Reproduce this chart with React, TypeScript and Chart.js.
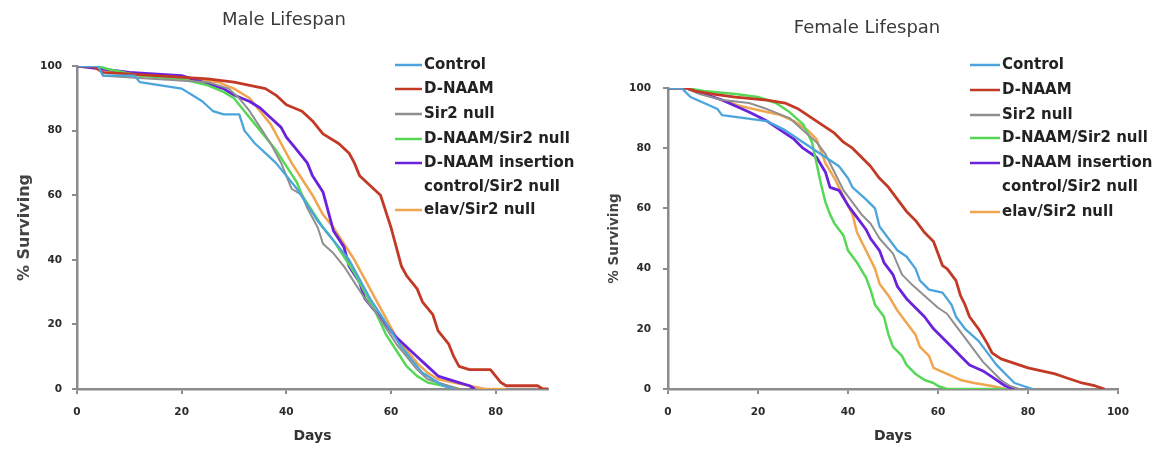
import React, { useEffect, useRef } from 'react';
import { Chart, registerables } from 'chart.js';

Chart.register(...registerables);

const seriesLabels = [
  'Control',
  'D-NAAM',
  'Sir2 null',
  'D-NAAM/Sir2 null',
  'D-NAAM insertion\ncontrol/Sir2 null',
  'elav/Sir2 null',
];
const seriesColors = ['#4ba4dc', '#c23a26', '#8f8f8f', '#56d856', '#6a22dc', '#f1a54f'];
const seriesWidths = [2.3, 2.8, 2, 2.5, 2.8, 2.5];

const yTicks = [0, 20, 40, 60, 80, 100];
const maleXTicks = [0, 20, 40, 60, 80];
const femaleXTicks = [0, 20, 40, 60, 80, 100];

// ---------- Male lifespan (day, % surviving) ----------
const maleControlDays = [0, 4, 5, 11, 12, 16, 20, 22, 24, 26, 28, 31, 32, 34, 36, 38, 40, 42, 44, 46, 48, 50, 52, 54, 56, 58, 60, 62, 64, 66, 68, 70, 72];
const maleControlPct = [100, 100, 97, 97, 95, 94, 93, 91, 89, 86, 85, 85, 80, 76, 73, 70, 66, 62, 57, 52, 48, 44, 40, 34, 28, 23, 18, 13, 9, 5, 3, 1, 0];

const maleDnaamDays = [0, 3, 5, 15, 25, 30, 33, 36, 38, 40, 43, 45, 47, 50, 52, 53, 54, 56, 58, 59, 60, 61, 62, 63, 65, 66, 68, 69, 71, 72, 73, 75, 79, 80, 81, 82, 88, 89, 90];
const maleDnaamPct = [100, 100, 98, 97, 96, 95, 94, 93, 91, 88, 86, 83, 79, 76, 73, 70, 66, 63, 60, 55, 50, 44, 38, 35, 31, 27, 23, 18, 14, 10, 7, 6, 6, 4, 2, 1, 1, 0, 0];

const maleSir2Days = [0, 4, 5, 15, 25, 29, 31, 33, 35, 37, 39, 40, 41, 43, 44, 46, 47, 49, 51, 53, 55, 57, 59, 61, 63, 65, 67, 69, 71, 73];
const maleSir2Pct = [100, 100, 97, 96, 95, 93, 90, 86, 81, 76, 70, 66, 62, 60, 56, 50, 45, 42, 38, 33, 28, 24, 19, 14, 10, 6, 3, 2, 1, 0];

const maleDnaamSir2Days = [0, 4, 6, 12, 20, 25, 28, 30, 32, 34, 36, 38, 40, 42, 43, 45, 47, 49, 51, 53, 55, 57, 59, 61, 63, 65, 67, 70, 73];
const maleDnaamSir2Pct = [100, 100, 99, 97, 96, 94, 92, 90, 86, 82, 78, 74, 69, 64, 60, 55, 50, 46, 41, 36, 30, 24, 17, 12, 7, 4, 2, 1, 0];

const maleInsertionDays = [0, 5, 10, 20, 24, 28, 30, 33, 35, 37, 39, 40, 42, 44, 45, 47, 48, 49, 51, 52, 54, 55, 57, 59, 61, 63, 65, 67, 69, 71, 73, 75, 76];
const maleInsertionPct = [100, 99, 98, 97, 95, 93, 91, 89, 87, 84, 81, 78, 74, 70, 66, 61, 55, 49, 44, 38, 33, 28, 24, 20, 16, 13, 10, 7, 4, 3, 2, 1, 0];

const maleElavDays = [0, 5, 15, 22, 27, 30, 33, 35, 37, 39, 41, 43, 45, 47, 49, 51, 53, 55, 57, 59, 61, 63, 65, 67, 69, 72, 75, 78, 82];
const maleElavPct = [100, 99, 97, 96, 95, 93, 90, 86, 82, 76, 70, 65, 60, 54, 50, 45, 40, 34, 28, 22, 16, 12, 8, 5, 3, 2, 1, 0, 0];

// ---------- Female lifespan (day, % surviving) ----------
const femaleControlDays = [0, 3, 5, 8, 11, 12, 17, 22, 26, 30, 33, 36, 38, 40, 41, 44, 46, 47, 49, 51, 53, 55, 56, 58, 61, 63, 64, 66, 69, 71, 73, 75, 77, 79, 81];
const femaleControlPct = [100, 100, 97, 95, 93, 91, 90, 89, 86, 82, 79, 76, 74, 70, 67, 63, 60, 54, 50, 46, 44, 40, 36, 33, 32, 28, 24, 20, 16, 12, 8, 5, 2, 1, 0];

const femaleDnaamDays = [0, 4, 6, 10, 15, 22, 26, 29, 31, 33, 35, 37, 39, 41, 43, 45, 47, 49, 51, 53, 55, 57, 59, 60, 61, 62, 64, 65, 66, 67, 69, 71, 72, 74, 76, 78, 80, 83, 86, 88, 90, 92, 95, 97];
const femaleDnaamPct = [100, 100, 99, 98, 97, 96, 95, 93, 91, 89, 87, 85, 82, 80, 77, 74, 70, 67, 63, 59, 56, 52, 49, 45, 41, 40, 36, 31, 28, 24, 20, 15, 12, 10, 9, 8, 7, 6, 5, 4, 3, 2, 1, 0];

const femaleSir2Days = [0, 4, 7, 12, 18, 22, 27, 30, 33, 35, 37, 39, 41, 43, 45, 47, 50, 52, 54, 57, 60, 62, 64, 66, 68, 70, 72, 74, 76, 78];
const femaleSir2Pct = [100, 100, 98, 96, 95, 93, 90, 86, 82, 78, 72, 66, 62, 58, 55, 50, 45, 38, 35, 31, 27, 25, 21, 17, 13, 9, 6, 3, 1, 0];

const femaleDnaamSir2Days = [0, 4, 8, 15, 20, 24, 27, 30, 32, 33, 34, 35, 36, 37, 39, 40, 42, 44, 45, 46, 48, 49, 50, 52, 53, 55, 57, 59, 60, 62, 75];
const femaleDnaamSir2Pct = [100, 100, 99, 98, 97, 95, 92, 88, 82, 75, 68, 62, 58, 55, 51, 46, 42, 37, 33, 28, 24, 18, 14, 11, 8, 5, 3, 2, 1, 0, 0];

const femaleInsertionDays = [0, 4, 8, 12, 15, 18, 22, 25, 28, 30, 33, 35, 36, 38, 40, 42, 44, 45, 47, 48, 50, 51, 53, 55, 57, 59, 61, 63, 65, 67, 70, 72, 74, 75, 77];
const femaleInsertionPct = [100, 100, 98, 96, 94, 92, 89, 86, 83, 80, 77, 72, 67, 66, 61, 57, 53, 50, 46, 42, 38, 34, 30, 27, 24, 20, 17, 14, 11, 8, 6, 4, 2, 1, 0];

const femaleElavDays = [0, 4, 8, 12, 16, 22, 25, 28, 31, 33, 35, 37, 39, 41, 42, 44, 46, 47, 49, 51, 53, 55, 56, 58, 59, 62, 65, 68, 72, 75];
const femaleElavPct = [100, 100, 98, 96, 94, 92, 91, 89, 86, 83, 75, 70, 64, 58, 52, 46, 40, 35, 31, 26, 22, 18, 14, 11, 7, 5, 3, 2, 1, 0];

const maleSeries = [
  [maleControlDays, maleControlPct],
  [maleDnaamDays, maleDnaamPct],
  [maleSir2Days, maleSir2Pct],
  [maleDnaamSir2Days, maleDnaamSir2Pct],
  [maleInsertionDays, maleInsertionPct],
  [maleElavDays, maleElavPct],
];
const femaleSeries = [
  [femaleControlDays, femaleControlPct],
  [femaleDnaamDays, femaleDnaamPct],
  [femaleSir2Days, femaleSir2Pct],
  [femaleDnaamSir2Days, femaleDnaamSir2Pct],
  [femaleInsertionDays, femaleInsertionPct],
  [femaleElavDays, femaleElavPct],
];

const FONT = '"DejaVu Sans", Verdana, sans-serif';
const AXIS_COLOR = '#8c8c8c';

const overlayPlugin = {
  id: 'panelOverlay',
  afterDraw(chart: any, _args: any, opts: any) {
    const ctx = chart.ctx;
    ctx.save();
    ctx.font = `normal ${opts.titleSize}px ${FONT}`;
    ctx.fillStyle = '#3a3a3a';
    ctx.textAlign = 'center';
    ctx.textBaseline = 'middle';
    ctx.fillText(opts.title, opts.titleX, opts.titleY);

    ctx.font = `bold ${opts.legendSize}px ${FONT}`;
    ctx.textAlign = 'left';
    let row = 0;
    chart.data.datasets.forEach((ds: any) => {
      const lines = String(ds.label).split('\n');
      const y = opts.rows[row];
      ctx.strokeStyle = ds.borderColor;
      ctx.lineWidth = 2.5;
      ctx.beginPath();
      ctx.moveTo(opts.lineX, y);
      ctx.lineTo(opts.lineX + opts.lineLen, y);
      ctx.stroke();
      ctx.fillStyle = '#222';
      lines.forEach((ln: string, i: number) => {
        ctx.fillText(ln, opts.textX, opts.rows[row + i]);
      });
      row += lines.length;
    });
    ctx.restore();
  },
};

function makeConfig(p: any) {
  return {
    type: 'line',
    data: {
      datasets: p.series.map((s: number[][], i: number) => ({
        label: seriesLabels[i],
        data: s[0].map((d: number, k: number) => ({ x: d, y: s[1][k] })),
        borderColor: seriesColors[i],
        backgroundColor: seriesColors[i],
        borderWidth: seriesWidths[i],
        pointRadius: 0,
        stepped: false,
        fill: false,
        tension: 0,
        borderJoinStyle: 'round',
      })),
    },
    options: {
      responsive: false,
      animation: false,
      layout: { padding: p.padding },
      plugins: {
        legend: { display: false },
        tooltip: { enabled: false },
        title: { display: false },
        panelOverlay: p.overlay,
      },
      scales: {
        x: {
          type: 'linear',
          min: 0,
          max: p.xMax,
          afterBuildTicks: (s: any) => {
            s.ticks = p.xTicks.map((v: number) => ({ value: v }));
          },
          afterFit: (s: any) => {
            s.height = p.xHeight;
          },
          border: { display: true, color: AXIS_COLOR, width: 2.5 },
          grid: { display: true, drawOnChartArea: false, drawTicks: true, tickLength: 5, color: AXIS_COLOR, lineWidth: 2 },
          ticks: { padding: 12, color: '#2a2a2a', font: { family: FONT, size: 10.5, weight: 'bold' }, maxRotation: 0 },
          title: { display: true, text: 'Days', color: '#333', font: { family: FONT, size: 14, weight: 'bold' }, padding: { top: 0, bottom: 0 } },
        },
        y: {
          min: 0,
          max: 100,
          afterBuildTicks: (s: any) => {
            s.ticks = yTicks.map((v: number) => ({ value: v }));
          },
          afterFit: (s: any) => {
            s.width = p.yWidth;
          },
          border: { display: true, color: AXIS_COLOR, width: 2.5 },
          grid: { display: true, drawOnChartArea: false, drawTicks: true, tickLength: 5, color: AXIS_COLOR, lineWidth: 2 },
          ticks: { padding: p.yTickPad, color: '#2a2a2a', font: { family: FONT, size: 10.5, weight: 'bold' } },
          title: { display: true, text: '% Surviving', color: '#444', font: { family: FONT, size: p.yTitleSize, weight: 'bold' }, padding: { top: 0, bottom: 0 } },
        },
      },
    },
    plugins: [overlayPlugin],
  };
}

const maleParams = {
  series: maleSeries,
  xMax: 90,
  xTicks: maleXTicks,
  padding: { left: 15, top: 66, right: 32, bottom: 9 },
  xHeight: 56,
  yWidth: 62,
  yTickPad: 10,
  yTitleSize: 16,
  overlay: {
    title: 'Male Lifespan', titleX: 284, titleY: 20, titleSize: 18,
    legendSize: 15, lineX: 395, lineLen: 27, textX: 424,
    rows: [65, 89, 114, 139, 163, 187, 210],
  },
};

const femaleParams = {
  series: femaleSeries,
  xMax: 100,
  xTicks: femaleXTicks,
  padding: { left: 26, top: 88, right: 40, bottom: 9 },
  xHeight: 56,
  yWidth: 62,
  yTickPad: 12,
  yTitleSize: 13.5,
  overlay: {
    title: 'Female Lifespan', titleX: 287, titleY: 28, titleSize: 18,
    legendSize: 15, lineX: 390, lineLen: 30, textX: 422,
    rows: [65, 90, 115, 138, 163, 187, 212],
  },
};

function Panel({ params, left, width }: { params: any; left: number; width: number }) {
  const ref = useRef<HTMLCanvasElement | null>(null);
  useEffect(() => {
    if (!ref.current) return;
    const chart = new Chart(ref.current, makeConfig(params) as any);
    return () => chart.destroy();
  }, [params]);
  return (
    <canvas
      ref={ref}
      width={width}
      height={454}
      style={{ position: 'absolute', left, top: 0, width, height: 454 }}
    />
  );
}

export default function App() {
  return (
    <div style={{ position: 'absolute', left: 0, top: 0, width: 1158, height: 454, background: '#ffffff', overflow: 'hidden' }}>
      <Panel params={maleParams} left={0} width={580} />
      <Panel params={femaleParams} left={580} width={578} />
    </div>
  );
}
